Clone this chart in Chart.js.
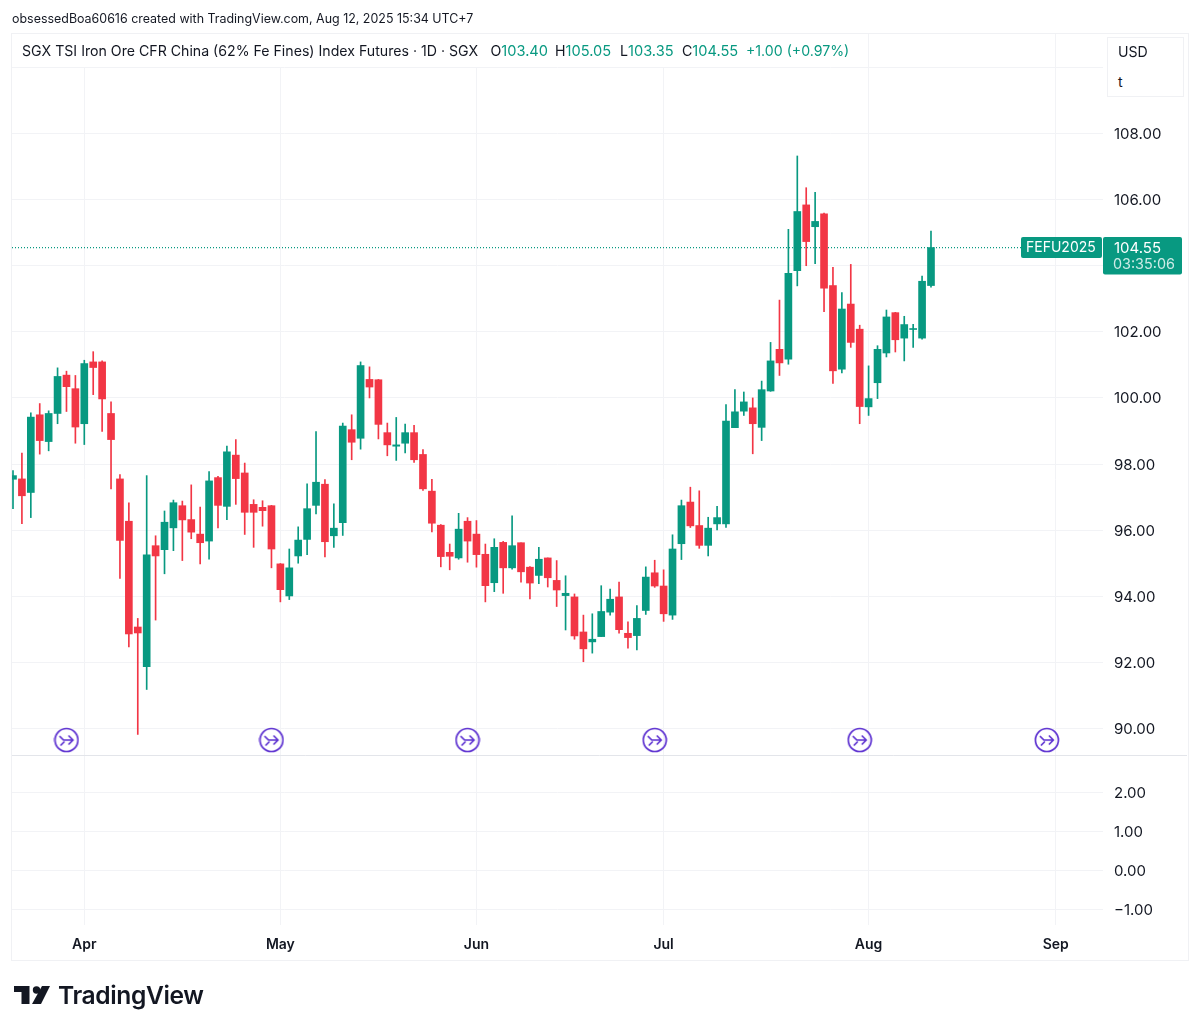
<!DOCTYPE html>
<html><head><meta charset="utf-8">
<script src="https://cdn.jsdelivr.net/npm/chart.js@4"></script>
<style>
html,body{margin:0;padding:0;background:#fff;width:1200px;height:1031px;overflow:hidden;font-family:Inter,"Liberation Sans",sans-serif;color:#131722}
canvas{position:absolute;left:0;top:0}
.t{position:absolute;white-space:nowrap;font-size:14.15px;line-height:18px}
.g{color:#089981}
.v{font-size:14.6px}
#frame{position:absolute;left:11px;top:33px;width:1176px;height:926px;border:1px solid #f0f1f4}
#legendBox{position:absolute;left:12px;top:34px;width:846px;height:33px;background:#fff}
#unitBox{position:absolute;left:1107px;top:37px;width:75px;height:58px;background:#fff;border:1px solid #f0f1f4}
</style></head><body>
<div id="frame"></div>
<canvas id="c" width="1200" height="1031"></canvas>
<div id="legendBox"></div>
<div id="unitBox"></div>
<div class="t" style="left:12px;top:10px;font-size:12.45px">obsessedBoa60616 created with TradingView.com, Aug 12, 2025 15:34 UTC+7</div>
<div class="t" style="left:22px;top:42px">SGX TSI Iron Ore CFR China (62% Fe Fines) Index Futures · 1D · SGX</div>
<div class="t" style="left:490.5px;top:42px">O<span class="g v">103.40</span></div>
<div class="t" style="left:555px;top:42px">H<span class="g v">105.05</span></div>
<div class="t" style="left:620px;top:42px">L<span class="g v">103.35</span></div>
<div class="t" style="left:682px;top:42px">C<span class="g v">104.55</span></div>
<div class="t g" style="left:746px;top:42px">+1.00 (+0.97%)</div>
<div class="t" style="left:1118px;top:43px">USD</div>
<div class="t" style="left:1118px;top:73px">t</div>
<svg style="position:absolute;left:14px;top:986px" width="36" height="18" viewBox="0 0 36 18" fill="#131722"><path d="M15.5 0H0v6h7.5v12h8V0Z"/><circle cx="22.5" cy="4" r="3.7"/><path d="M27 18h-9L28 0h8l-9 18Z"/></svg>
<div class="t" style="left:58px;top:980px;font-size:24.6px;line-height:30px;font-weight:600;letter-spacing:-.4px">TradingView</div>
<script>
const opens=[97.54,97.55,97.14,99.49,98.68,99.53,100.69,100.28,99.22,101.09,
101.09,99.53,97.55,96.27,93.07,91.87,95.53,95.41,96.07,96.74,
96.32,95.88,95.67,97.59,96.72,98.27,97.73,96.78,96.69,96.74,
94.98,94.01,95.22,95.72,96.75,97.39,95.83,96.23,99.04,98.78,
100.56,100.55,98.95,98.54,98.63,98.95,98.29,97.18,96.15,95.33,
95.16,96.27,95.88,95.27,94.41,95.63,94.86,95.62,94.88,94.63,
95.16,94.48,94.02,93.98,92.92,92.62,92.78,93.52,93.98,92.88,
92.81,93.57,94.71,94.31,93.43,95.59,96.85,96.14,95.54,96.19,
96.19,99.10,99.60,99.70,99.11,100.21,101.47,101.17,103.85,105.84,
105.18,105.57,103.40,100.87,102.84,102.08,99.73,100.46,101.36,102.58,
101.81,102.07,101.81,103.40];
const highs=[97.80,98.33,99.55,99.83,99.61,100.91,100.81,100.68,101.14,101.40,
101.12,99.88,97.68,96.83,93.33,97.65,95.83,96.58,96.91,96.88,
97.37,96.70,97.77,97.63,98.54,98.74,98.03,96.92,96.89,96.75,
94.99,95.43,96.10,97.40,98.98,97.53,96.80,99.24,99.49,101.09,
100.94,100.56,99.24,99.41,99.21,99.17,98.44,97.54,96.17,95.58,
96.51,96.38,96.29,95.58,95.74,95.66,96.43,95.62,94.90,95.48,
95.16,95.08,94.62,94.07,93.43,93.47,94.32,94.22,94.43,93.23,
93.72,94.89,95.09,94.80,95.86,96.91,97.30,97.19,96.39,96.72,
99.80,100.25,100.18,100.00,100.51,101.68,102.96,105.10,107.32,106.36,
106.22,105.59,103.95,103.19,104.04,102.20,100.97,101.58,102.66,102.59,
102.47,102.23,103.69,105.05];
const lows=[96.65,96.20,96.38,98.30,98.40,99.22,99.59,98.63,98.59,100.10,
98.99,97.25,94.54,92.47,89.82,91.18,93.28,94.68,95.38,95.08,
95.74,94.98,95.12,96.07,96.32,96.78,95.87,95.48,96.12,94.86,
93.83,93.90,95.00,95.26,96.49,95.19,95.48,95.84,98.13,98.45,
100.00,98.76,98.25,98.11,98.34,98.05,97.20,95.95,94.89,94.80,
95.12,95.03,94.88,93.83,94.14,94.09,94.82,94.43,93.92,94.38,
94.28,93.69,92.98,92.70,92.02,92.28,92.78,93.43,92.88,92.43,
92.38,93.45,94.27,93.24,93.30,95.11,96.08,95.45,95.22,96.01,
96.08,99.10,99.47,98.31,98.71,100.20,100.68,101.02,103.39,104.00,
104.06,102.61,100.44,100.76,101.53,99.22,99.47,99.98,101.24,101.39,
101.12,101.53,101.78,103.35];
const closes=[97.65,97.04,99.42,98.71,99.53,100.65,100.34,99.12,101.04,100.92,
99.97,98.74,95.69,92.86,92.89,95.25,95.22,96.24,96.83,96.31,
95.94,95.62,97.49,96.75,98.37,97.56,96.54,96.54,96.59,95.43,
94.20,94.86,95.70,96.65,97.45,95.65,96.06,99.15,98.66,100.98,
100.33,99.20,98.58,98.58,98.95,98.13,97.25,96.21,95.20,95.21,
96.03,95.67,95.26,94.32,95.48,94.86,95.53,94.74,94.40,95.12,
94.56,94.19,94.09,92.80,92.41,92.70,93.54,93.91,92.99,92.75,
93.33,94.58,94.31,93.47,95.43,96.74,96.13,95.54,96.06,96.38,
99.30,99.58,99.88,99.22,100.25,101.12,101.06,103.77,105.64,104.73,
105.34,103.32,100.82,102.69,101.68,99.74,99.98,101.47,102.45,101.76,
102.22,102.10,103.53,104.55];
const monthTicks=[8,30,52,73,96,117];
const monthLabels=['Apr','May','Jun','Jul','Aug','Sep'];
const priceTicks=[90,92,94,96,98,100,102,104,106,108,110];
const lowerTicks=[-1,0,1,2];
const eventSessions=[6,29,51,72,95,116];
const eventLevel=89.65;
const lastPrice=104.55;
const symbolTag='FEFU2025';
const countdown='03:35:06';

const UP='#089981',DOWN='#F23645',GRID='#f2f3f6',TXT='#131722';
const FONT='Inter';
const xMin=-0.112,xMax=122.3;
const colors=opens.map((o,i)=>closes[i]>=o?UP:DOWN);

function eventIcon(){
  const s=26,c=document.createElement('canvas');c.width=s;c.height=s;
  const g=c.getContext('2d');g.strokeStyle='#5b2fd0';g.lineWidth=1.7;g.lineCap='round';g.lineJoin='round';
  g.beginPath();g.arc(13,13,11.5,0,Math.PI*2);g.stroke();
  g.beginPath();g.moveTo(6.5,9.5);g.lineTo(10,13);g.lineTo(19.5,13);
  g.moveTo(15.5,9);g.lineTo(19.5,13);g.lineTo(15.5,17);
  g.moveTo(7.5,18);g.lineTo(10.5,15);g.stroke();
  return c;
}
const tagPlugin={id:'tags',
  afterDatasetsDraw(ch){
    const {ctx,scales:{x,y}}=ch;const py=y.getPixelForValue(lastPrice),r=x.right;
    ctx.save();
    ctx.strokeStyle='#e3e5ea';ctx.lineWidth=1;ctx.beginPath();ctx.moveTo(x.left,Math.round(y.bottom)+.5);ctx.lineTo(1187,Math.round(y.bottom)+.5);ctx.stroke();
    ctx.fillStyle=UP;
    ctx.beginPath();ctx.roundRect(r-82,py-10.5,81,21,2);ctx.fill();
    ctx.beginPath();ctx.roundRect(r,py-10.5,79,37.5,2);ctx.fill();
    ctx.textBaseline='middle';ctx.textAlign='left';
    ctx.fillStyle='#fff';
    ctx.font='14px '+FONT;
    ctx.fillText(symbolTag,r-77,py+.5);
    ctx.font='15px '+FONT;
    ctx.fillText(lastPrice.toFixed(2),r+11,py+.5);
    ctx.font='14.4px '+FONT;
    ctx.fillStyle='rgba(255,255,255,.8)';
    ctx.fillText(countdown,r+10,py+17);
    ctx.restore();
  }};
const fitY=s=>{s.width=85;};
new Chart(document.getElementById('c'),{
  type:'bar',
  plugins:[tagPlugin],
  data:{datasets:[
    {type:'bar',label:'Body',order:1,grouped:false,barThickness:7,borderWidth:0,
     backgroundColor:colors,data:opens.map((o,i)=>({x:i,y:[Math.min(o,closes[i]),Math.max(o,closes[i])]}))},
    {type:'bar',label:'Wick',order:2,grouped:false,barThickness:1,borderWidth:0,
     backgroundColor:colors,data:highs.map((h,i)=>({x:i,y:[lows[i],h]}))},
    {type:'line',label:'Last',order:3,borderColor:UP,borderWidth:1.2,borderDash:[1,2],pointRadius:0,
     data:[{x:xMin,y:lastPrice},{x:xMax,y:lastPrice}]},
    {type:'line',label:'Events',order:0,showLine:false,pointStyle:eventIcon(),pointRadius:13,
     data:eventSessions.map(s=>({x:s,y:eventLevel}))}
  ]},
  options:{
    responsive:false,animation:false,devicePixelRatio:1,
    layout:{autoPadding:false,padding:{left:12,right:12,top:34,bottom:71}},
    plugins:{legend:{display:false},tooltip:{enabled:false},title:{display:false}},
    scales:{
      x:{type:'linear',position:'bottom',offset:false,min:xMin,max:xMax,
        grid:{offset:false,color:GRID,drawTicks:false},border:{display:false},
        afterBuildTicks:s=>{s.ticks=monthTicks.map(v=>({value:v}));},
        afterFit:s=>{s.height=35;s.paddingLeft=0;s.paddingRight=0;},
        ticks:{autoSkip:false,maxRotation:0,padding:11,color:TXT,font:{family:FONT,size:14,weight:'600'},
          callback:v=>monthLabels[monthTicks.indexOf(v)]||''}},
      y:{type:'linear',position:'right',stack:'panes',stackWeight:721,weight:1,min:89.198,max:111.01,
        grid:{color:GRID,drawTicks:false},border:{display:false},
        afterBuildTicks:s=>{s.ticks=priceTicks.map(v=>({value:v}));},
        afterFit:fitY,
        ticks:{padding:11,crossAlign:'near',labelOffset:1,color:TXT,font:{family:FONT,size:15},
          callback:v=>v===110?'':v.toFixed(2)}},
      y2:{type:'linear',position:'right',stack:'panes',stackWeight:170,weight:2,min:-1.385,max:2.97,
        grid:{color:GRID,drawTicks:false},border:{display:false},
        afterBuildTicks:s=>{s.ticks=lowerTicks.map(v=>({value:v}));},
        afterFit:fitY,
        ticks:{padding:11,crossAlign:'near',labelOffset:1,color:TXT,font:{family:FONT,size:15},
          callback:v=>(v<0?'\u2212'+Math.abs(v).toFixed(2):v.toFixed(2))}}
    }
  }
});
</script>
</body></html>
